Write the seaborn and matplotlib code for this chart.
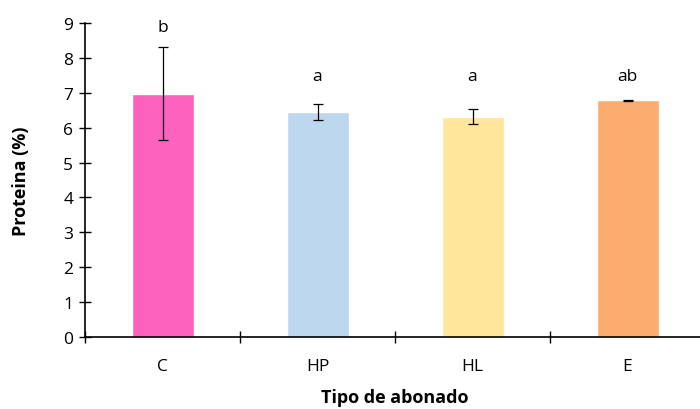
import matplotlib
matplotlib.use("Agg")
import matplotlib.pyplot as plt
import seaborn as sns
import pandas as pd
from matplotlib.ticker import FixedLocator

# datos
tipos = ["C", "HP", "HL", "E"]
proteina = [6.97, 6.45, 6.32, 6.78]
error = [1.33, 0.23, 0.22, 0.02]
letras = ["b", "a", "a", "ab"]
colores = ["#FC62BE", "#BDD7EE", "#FFE699", "#FBAC6E"]

df = pd.DataFrame({"tipo": tipos, "proteina": proteina})

sns.set_style("white")
plt.rcParams["font.family"] = ["Open Sans", "DejaVu Sans"]
plt.rcParams["text.color"] = "black"
plt.rcParams["axes.labelcolor"] = "black"
plt.rcParams["xtick.color"] = "black"
plt.rcParams["ytick.color"] = "black"

fig = plt.figure(figsize=(7, 4.1), dpi=100)
ax = fig.add_axes([85 / 700, 72 / 410, 620 / 700, 314 / 410])

sns.barplot(data=df, x="tipo", y="proteina", hue="tipo", palette=colores,
            width=0.4, errorbar=None, legend=False, ax=ax, saturation=1)
ax.errorbar(range(len(tipos)), proteina, yerr=error, fmt="none",
            ecolor="black", elinewidth=0.9, capsize=3.5, capthick=0.9)

for i, (v, e, l) in enumerate(zip(proteina, error, letras)):
    ax.text(i, max(v + e, 6.9) + 0.58, l, ha="center", va="center", fontsize=12.5)

ax.set_ylim(0, 9)
ax.set_xlim(-0.5, 3.5)
ax.set_yticks(range(0, 10))
ax.tick_params(axis="y", left=True, direction="inout", length=9, width=1,
               labelsize=12.5, pad=4)
ax.tick_params(axis="x", which="major", bottom=True, length=0, labelsize=12.5, pad=15)
ax.xaxis.set_minor_locator(FixedLocator([-0.5, 0.5, 1.5, 2.5]))
ax.tick_params(axis="x", which="minor", bottom=True, direction="inout", length=9, width=1)

for s in ["top", "right"]:
    ax.spines[s].set_visible(False)
for s in ["left", "bottom"]:
    ax.spines[s].set_color("black")
    ax.spines[s].set_linewidth(1.2)

ax.set_xlabel("Tipo de abonado", fontsize=13, fontweight="bold", labelpad=10)
ax.set_ylabel("Proteina (%)", fontsize=13, fontweight="bold", labelpad=24)

fig.savefig("out.png", dpi=100)
